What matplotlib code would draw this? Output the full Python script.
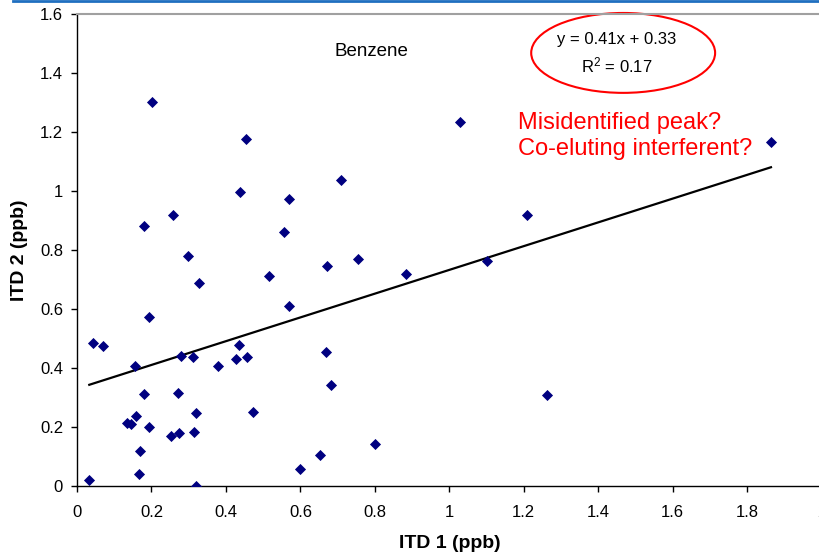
import matplotlib
matplotlib.use('Agg')
import matplotlib.pyplot as plt
from matplotlib.patches import Ellipse
from matplotlib.lines import Line2D
from matplotlib.ticker import FuncFormatter
import numpy as np

plt.rcParams['font.family'] = ['Liberation Sans', 'DejaVu Sans']
plt.rcParams['mathtext.default'] = 'regular'

# Datos: concentraciones de benceno (ppb) medidas por dos ITD
itd1 = [0.202, 0.453, 0.437, 0.569, 0.708, 0.180, 0.258, 0.557, 0.299, 0.672,
        0.756, 0.884, 0.517, 1.030, 1.864, 1.209, 1.102, 0.042, 0.069, 0.194,
        0.327, 0.569, 0.157, 0.279, 0.312, 0.435, 0.428, 0.457, 0.380, 0.670,
        0.682, 0.180, 0.270, 0.135, 0.145, 0.158, 0.193, 0.320, 0.474, 0.253,
        0.275, 0.315, 0.170, 0.167, 0.033, 0.320, 0.600, 0.654, 0.800, 1.262]
itd2 = [1.301, 1.176, 0.996, 0.974, 1.036, 0.880, 0.919, 0.862, 0.780, 0.746,
        0.768, 0.718, 0.710, 1.234, 1.165, 0.919, 0.762, 0.484, 0.475, 0.571,
        0.688, 0.610, 0.407, 0.439, 0.438, 0.477, 0.430, 0.437, 0.406, 0.455,
        0.340, 0.311, 0.313, 0.212, 0.209, 0.237, 0.200, 0.246, 0.251, 0.170,
        0.180, 0.181, 0.119, 0.040, 0.020, 0.000, 0.056, 0.104, 0.140, 0.308]

# Linea de tendencia
pendiente = 0.403
intercepto = 0.329

fig = plt.figure(figsize=(8.2, 5.56), dpi=100)
ax = fig.add_axes([77 / 820, 70.3 / 556, 744.6 / 820, 471.7 / 556])

ax.scatter(itd1, itd2, marker='D', s=32, color='#000080', zorder=3, linewidths=0)

xt = np.array([min(itd1), max(itd1)])
ax.plot(xt, pendiente * xt + intercepto, color='black', lw=1.6, zorder=2)

ax.set_xlim(0, 2)
ax.set_ylim(0, 1.6)
ax.set_xticks(np.arange(0, 2.01, 0.2))
ax.set_yticks(np.arange(0, 1.61, 0.2))
fmt = FuncFormatter(lambda v, p: '{:g}'.format(round(v, 2)))
ax.xaxis.set_major_formatter(fmt)
ax.yaxis.set_major_formatter(fmt)
ax.tick_params(direction='out', length=4, width=1, labelsize=12, pad=6)
ax.tick_params(axis='x', pad=10)

ax.spines['right'].set_visible(False)
ax.spines['top'].set_color('#a0a0a0')
ax.spines['top'].set_linewidth(1.5)
ax.spines['left'].set_linewidth(1)
ax.spines['bottom'].set_linewidth(1)

ax.set_xlabel('ITD 1 (ppb)', fontsize=14, fontweight='bold', va='center')
ax.xaxis.set_label_coords(0.501, -0.1215)
ax.set_ylabel('ITD 2 (ppb)', fontsize=14, fontweight='bold', va='center')
ax.yaxis.set_label_coords(-(77 - 20) / 744.6, 0.5)

# Anotaciones
ax.text(0.792, 1.474, 'Benzene', fontsize=13.5, ha='center', va='center')
ax.text(1.450, 1.512, 'y = 0.41x + 0.33', fontsize=12, ha='center', va='center')
ax.text(1.450, 1.427, 'R$^2$ = 0.17', fontsize=12, ha='center', va='center')
ax.add_patch(Ellipse((1.467, 1.468), 0.494, 0.271, fill=False,
                     edgecolor='#ff0000', lw=1.5, clip_on=False))
ax.text(1.185, 1.186, 'Misidentified peak?\nCo-eluting interferent?',
        fontsize=17, color='#ff0000', ha='left', va='center', linespacing=1.2)

# Linea azul superior
fig.add_artist(Line2D([13 / 820, 1], [1 - 1 / 556, 1 - 1 / 556],
                      transform=fig.transFigure, color='#1f6fc0', lw=2))

plt.savefig('out.png', dpi=100)
